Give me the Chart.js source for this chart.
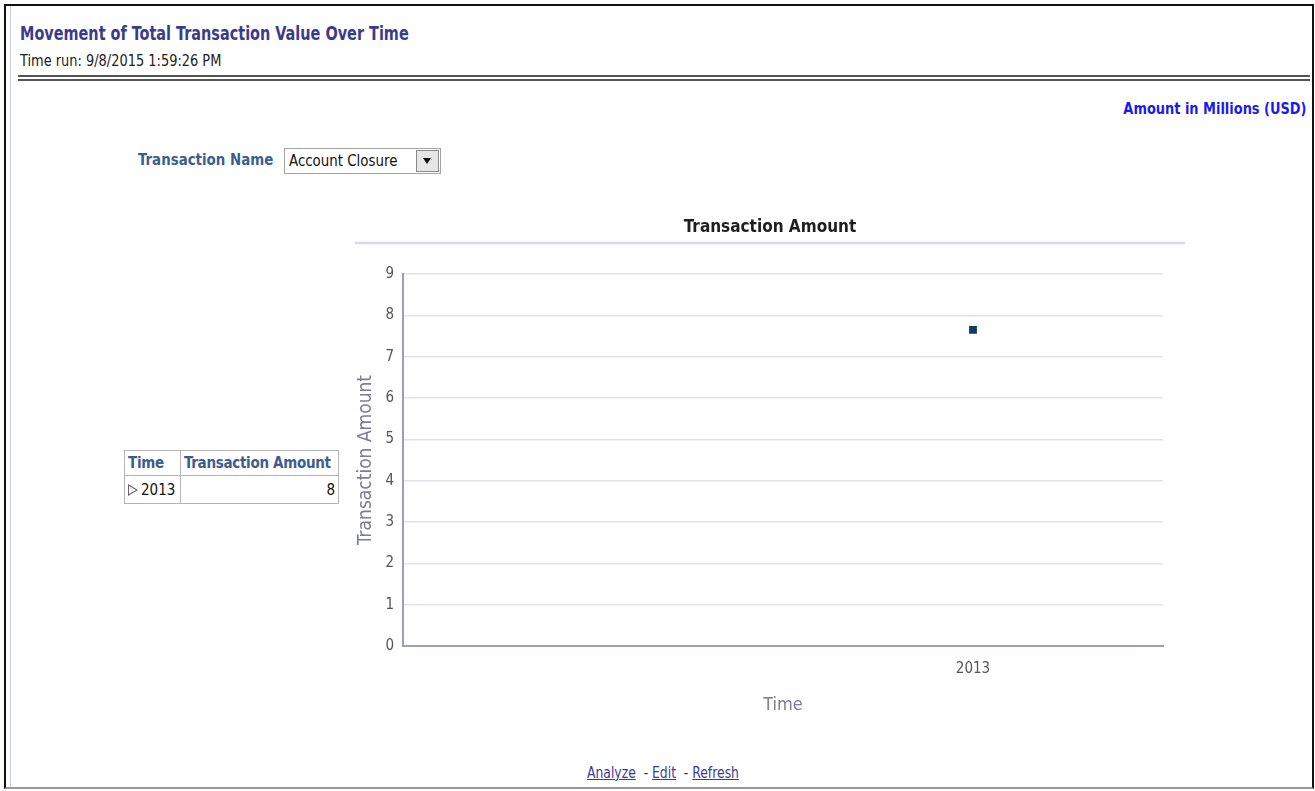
<!DOCTYPE html>
<html>
<head>
<meta charset="utf-8">
<title>Movement of Total Transaction Value Over Time</title>
<script src="https://cdn.jsdelivr.net/npm/chart.js@4/dist/chart.umd.min.js"></script>
<style>
  html, body { margin: 0; padding: 0; background: #fff; }
  body { width: 1315px; height: 791px; position: relative; overflow: hidden;
         font-family: "DejaVu Sans Condensed", "Liberation Sans", sans-serif; }
  .frame { position: absolute; left: 4px; top: 4px; width: 1306px; height: 781px;
           border: 2px solid #111; border-bottom: 2px solid #999; }
  .inner-edge { position: absolute; left: 10px; top: 6px; width: 1px; height: 781px; background: #c8cbe0; }
  .sx { transform-origin: left center; }
  .title { position: absolute; left: 20px; top: 22px; font-size: 19px; font-weight: bold; color: #3b3b8e; white-space: nowrap; transform: scaleX(0.845); }
  .runtime { position: absolute; left: 20px; top: 52px; font-size: 15px; color: #222; white-space: nowrap; transform: scaleX(0.96); }
  .rule { position: absolute; left: 18px; width: 1292px; height: 2px; background: #555; }
  .units { position: absolute; right: 8px; top: 99px; font-size: 16px; font-weight: bold; color: #1a1aee; white-space: nowrap; transform: scaleX(0.9); transform-origin: right center; }
  .pname { position: absolute; left: 138px; top: 150px; font-size: 16px; font-weight: bold; color: #3c5d8f; white-space: nowrap; transform: scaleX(0.93); }
  .select { position: absolute; left: 284px; top: 148px; width: 155px; height: 24px; border: 1px solid #a5a5a5; background: #fff; }
  .select span { position: absolute; left: 4px; top: 2px; font-size: 16px; color: #111; white-space: nowrap; transform: scaleX(0.93); transform-origin: left center; }
  .select .btn { position: absolute; right: 1px; top: 1px; width: 21px; height: 20px; border: 1px solid #8a8a8a; background: #e6e6e6; }
  .select .btn:after { content: ""; position: absolute; left: 6px; top: 7px; border-left: 4px solid transparent; border-right: 4px solid transparent; border-top: 6px solid #111; }
  table.pivot { position: absolute; left: 124px; top: 450px; border-collapse: collapse; font-size: 15px; }
  table.pivot td, table.pivot th { border: 1px solid #b5b5b5; padding: 0 3px; white-space: nowrap; }
  table.pivot th { color: #3c5d8f; font-weight: bold; height: 24px; text-align: left; letter-spacing: -0.3px; }
  table.pivot td { height: 27px; color: #111; }
  table.pivot td.num { text-align: right; }
  table.pivot .c1 { width: 49px; }
  table.pivot .c2 { width: 151px; }
  .tri { display: inline-block; width: 0; height: 0; border-top: 6px solid transparent; border-bottom: 6px solid transparent; border-left: 10px solid #666; position: relative; top: 1px; margin-right: 3px; }
  .tri:after { content: ""; position: absolute; left: -9px; top: -4px; border-top: 4px solid transparent; border-bottom: 4px solid transparent; border-left: 7px solid #fff; }
  #chartWrap { position: absolute; left: 340px; top: 205px; width: 860px; height: 520px; }
  .links { position: absolute; left: 587px; top: 763px; font-size: 16px; color: #333; white-space: nowrap; transform: scaleX(0.86); transform-origin: left center; }
  .links a { color: #3a3a9c; text-decoration: underline; }
</style>
</head>
<body>
<div class="frame"></div>
<div class="inner-edge"></div>
<div class="title sx">Movement of Total Transaction Value Over Time</div>
<div class="runtime sx">Time run: 9/8/2015 1:59:26 PM</div>
<div class="rule" style="top:75px"></div>
<div class="rule" style="top:79px"></div>
<div class="units">Amount in Millions (USD)</div>
<div class="pname sx">Transaction Name</div>
<div class="select"><span>Account Closure</span><div class="btn"></div></div>
<table class="pivot" id="pivot">
  <tr><th class="c1">Time</th><th class="c2">Transaction Amount</th></tr>
</table>
<div id="chartWrap"><canvas id="chart"></canvas></div>
<div class="links"><a>Analyze</a> &nbsp;- <a>Edit</a> &nbsp;- <a>Refresh</a></div>

<script>
// Years on the time axis; the leading blank slot places 2013 at three quarters of the width
const timeLabels = ['', '2013'];
// Transaction amount (millions USD) per year
const amounts = [null, 7.65];
// Value-axis ticks
const yTicks = [0, 1, 2, 3, 4, 5, 6, 7, 8, 9];
// Chart heading
const chartTitle = 'Transaction Amount';

// Pivot table rows, built from the same series (amount shown rounded)
const pivot = document.getElementById('pivot');
timeLabels.forEach((yr, i) => {
  if (amounts[i] == null) return;
  const tr = document.createElement('tr');
  tr.innerHTML = '<td class="c1"><span class="tri"></span>' + yr + '</td><td class="c2 num">' + Math.round(amounts[i]) + '</td>';
  pivot.appendChild(tr);
});

const narrow = '"DejaVu Sans Condensed", "Liberation Sans", sans-serif';

// Heading centred on the whole canvas, with a light rule beneath it
const headingPlugin = {
  id: 'heading',
  afterDraw(chart) {
    const ctx = chart.ctx;
    const w = chart.width;
    ctx.save();
    ctx.font = 'bold 17px ' + narrow;
    ctx.fillStyle = '#1e1e1e';
    ctx.textAlign = 'center';
    ctx.textBaseline = 'middle';
    ctx.fillText(chartTitle, w / 2, 23);
    ctx.strokeStyle = '#d9d9e8';
    ctx.lineWidth = 2.5;
    ctx.beginPath();
    ctx.moveTo(15, 38);
    ctx.lineTo(845, 38);
    ctx.stroke();
    ctx.restore();
  }
};

new Chart(document.getElementById('chart'), {
  type: 'line',
  data: {
    labels: timeLabels,
    datasets: [{
      label: chartTitle,
      data: amounts,
      showLine: false,
      pointStyle: 'rect',
      pointRadius: 5.5,
      pointHoverRadius: 5.5,
      pointBackgroundColor: '#0e3a6b',
      pointBorderColor: '#0e3a6b',
      pointBorderWidth: 0
    }]
  },
  options: {
    responsive: true,
    maintainAspectRatio: false,
    animation: false,
    layout: { padding: { left: 0, right: 37, top: 69, bottom: 0 } },
    plugins: {
      legend: { display: false },
      tooltip: { enabled: false },
      title: { display: false }
    },
    scales: {
      x: {
        type: 'category',
        offset: true,
        grid: { display: false, drawTicks: false },
        border: { display: true, color: '#9d9dc2', width: 2 },
        ticks: { color: '#555', font: { family: narrow, size: 15 }, padding: 14, autoSkip: false, maxRotation: 0 },
        title: { display: true, text: 'Time', color: '#7c7c9c', font: { family: narrow, size: 18 }, padding: { top: 4, bottom: 9 } },
        afterFit(scale) { scale.height = 79; }
      },
      y: {
        min: 0,
        max: 9,
        afterBuildTicks(scale) { scale.ticks = yTicks.map(v => ({ value: v })); },
        grid: { color: '#e2e2ec', lineWidth: 1.5, drawTicks: false },
        border: { display: true, color: '#9d9dc2', width: 2 },
        ticks: { color: '#555', font: { family: narrow, size: 15 }, padding: 9 },
        title: { display: true, text: chartTitle, color: '#7c7c9c', font: { family: narrow, size: 19 }, padding: { top: 15, bottom: 0 } },
        afterFit(scale) { scale.width = 63; }
      }
    }
  },
  plugins: [headingPlugin]
});
</script>
</body>
</html>
